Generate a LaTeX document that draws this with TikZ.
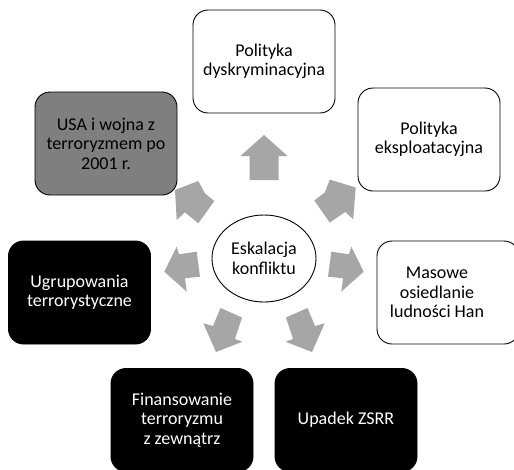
\documentclass[tikz,border=0pt]{standalone}
\usepackage{fontspec}
\setmainfont{Carlito}
\definecolor{arrowgray}{HTML}{A6A6A6}
\definecolor{boxgray}{HTML}{7F7F7F}
\tikzset{
  item/.style={draw=black, line width=0.9pt, rounded corners=15pt,
    minimum width=142pt, minimum height=103pt, align=center, inner sep=2pt,
    font=\fontsize{18}{19.5}\selectfont},
  whitebox/.style={item, fill=white, text=black},
  graybox/.style={item, fill=boxgray, text=black},
  blackbox/.style={item, fill=black, text=white},
  hub/.style={draw=black, line width=0.9pt, ellipse, minimum width=104pt, minimum height=87pt,
    align=center, font=\fontsize{18}{19.5}\selectfont},
  blockarrow/.style={fill=arrowgray, draw=none},
  plain/.style={align=center, font=\fontsize{18}{19.5}\selectfont, inner sep=0pt}
}
\usetikzlibrary{shapes.geometric}
\begin{document}
\begin{tikzpicture}[x=1pt,y=-1pt]
\useasboundingbox (0,0) rectangle (514,469);
% block arrows
\fill[blockarrow] (249.5,180) -- (249.5,156) -- (240.5,156) -- (264,135) -- (287.5,156) -- (278.5,156) -- (278.5,180) -- cycle;
\fill[blockarrow] (214.3,201) -- (205,193.3) -- (198.3,181) -- (175,190) -- (176.7,220) -- (185,212.3) -- (198.3,223.3) -- cycle;
\fill[blockarrow] (314.3,200.5) -- (324.8,192.5) -- (329.8,179.6) -- (355.7,187.5) -- (353.2,219.2) -- (345.3,212) -- (329.8,222.5) -- cycle;
\fill[blockarrow] (196.7,251.7) -- (179,254.3) -- (176.7,246.7) -- (164.3,271.7) -- (186.7,291.7) -- (185,278.3) -- (200,276.7) -- cycle;
\fill[blockarrow] (331.3,251.7) -- (349,254.3) -- (351.3,246.7) -- (363.7,271.7) -- (341.3,291.7) -- (343,278.3) -- (328,276.7) -- cycle;
\fill[blockarrow] (220.5,308) -- (242,317.5) -- (235,339) -- (242.5,341.7) -- (216,352) -- (203.3,323.3) -- (213,326) -- cycle;
\fill[blockarrow] (307.5,308) -- (286,317.5) -- (293,339) -- (285.5,341.7) -- (312,352) -- (324.7,323.3) -- (315,326) -- cycle;
% hub
\node[hub] (hub) at (264,258.5) {Eskalacja\\konfliktu};
% boxes
\node[whitebox] (dysk) at (264,61.5) {Polityka\\dyskryminacyjna};
\node[graybox] (usa) at (106,143.5) {USA i wojna z\\terroryzmem po\\2001 r.};
\node[whitebox] (eksp) at (429,139.5) {Polityka\\eksploatacyjna};
\node[blackbox] (ugr) at (79.5,292.5) {Ugrupowania\\terrorystyczne};
\node[whitebox] (mas) at (448,292.5) {};
\node[plain] (mastext) at (437,292.5) {Masowe\\osiedlanie\\ludności Han};
\node[blackbox] (fin) at (182,420) {Finansowanie\\terroryzmu\\z zewnątrz};
\node[blackbox] (upa) at (346,420) {Upadek ZSRR};
\end{tikzpicture}
\end{document}
